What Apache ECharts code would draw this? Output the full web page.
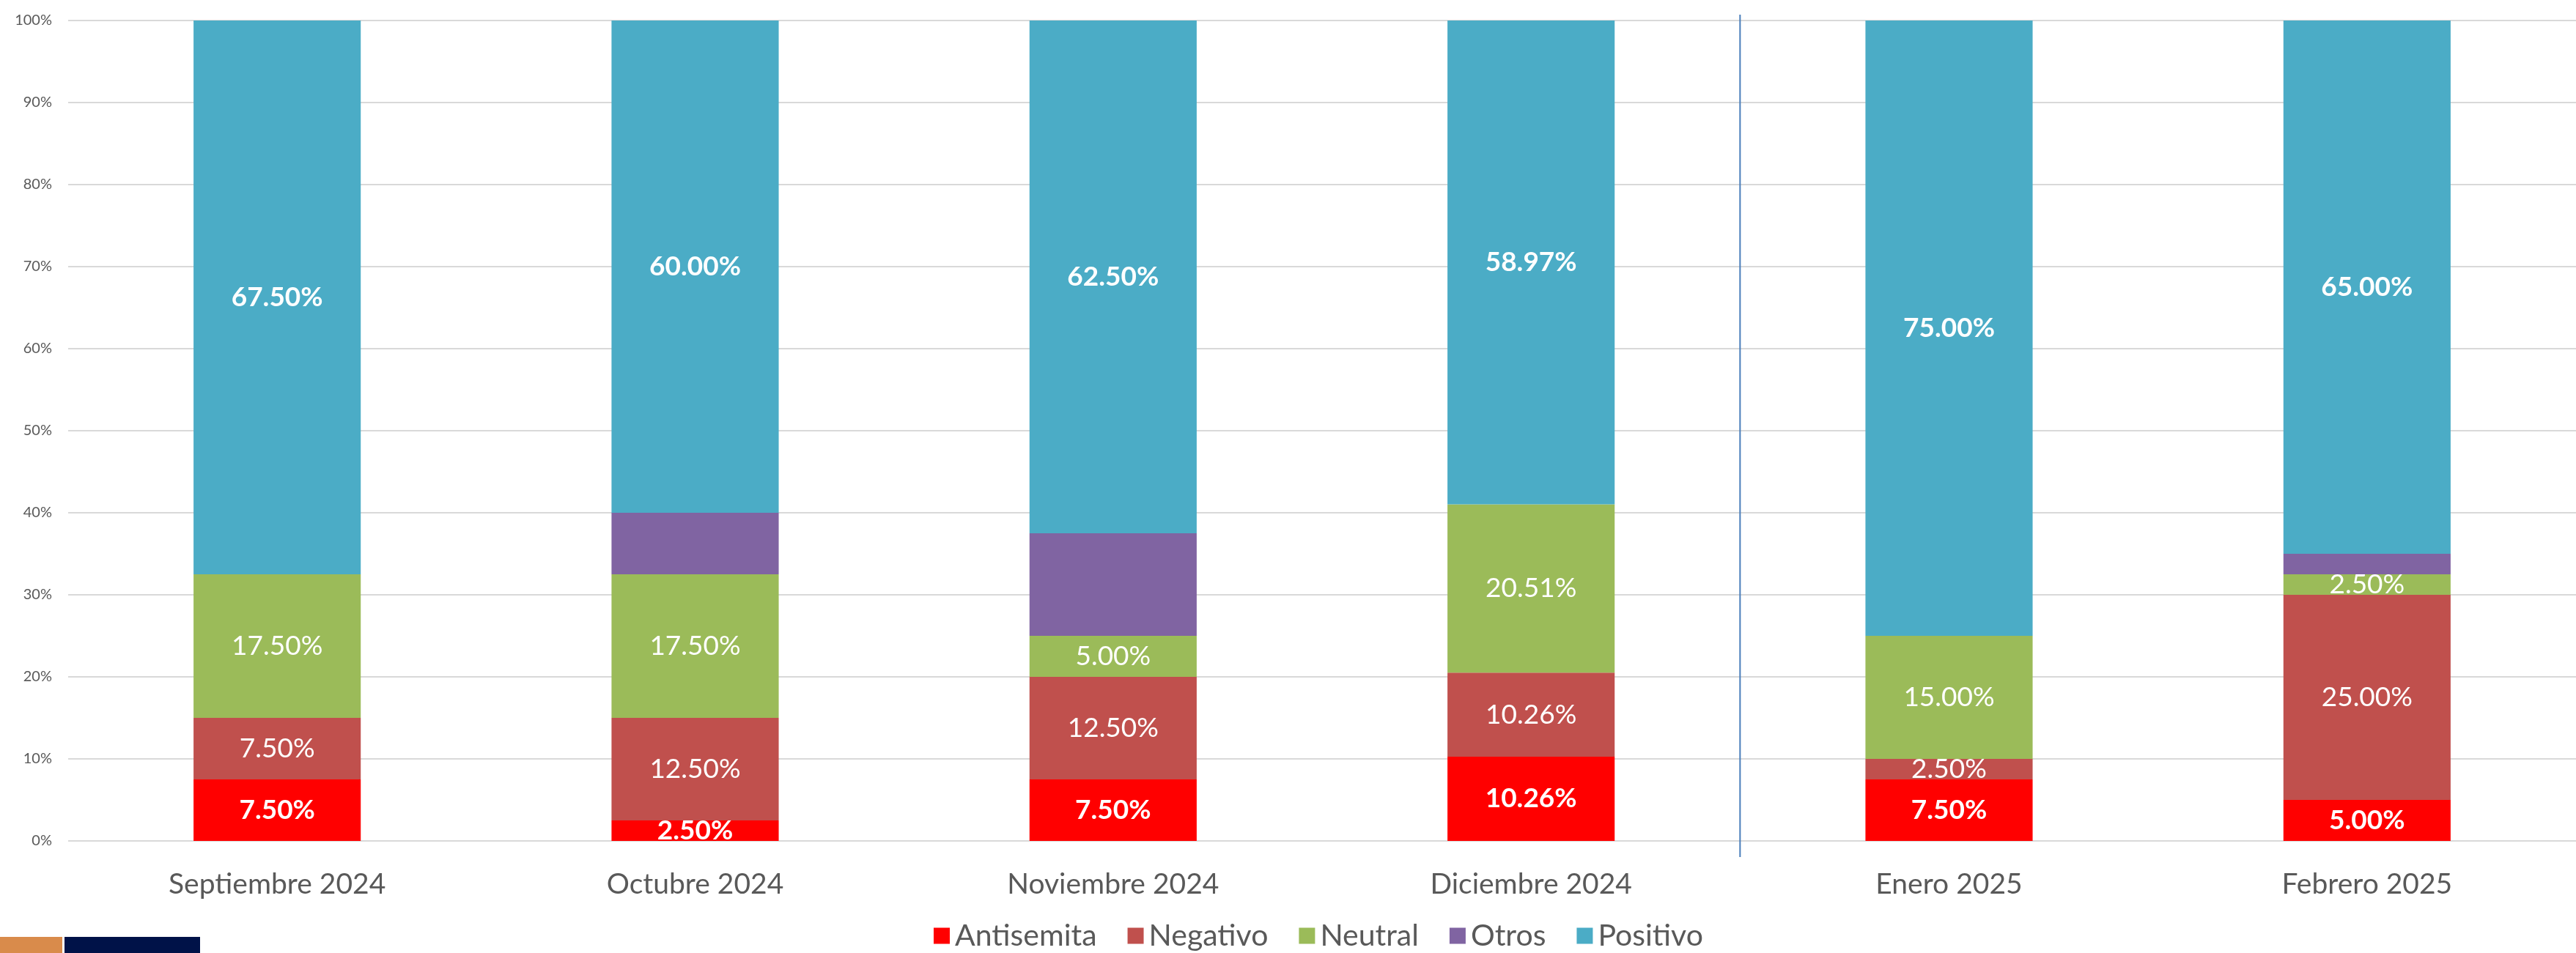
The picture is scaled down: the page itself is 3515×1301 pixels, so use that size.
<!DOCTYPE html>
<html>
<head>
<meta charset="utf-8">
<script src="https://cdn.jsdelivr.net/npm/echarts@6/dist/echarts.min.js"></script>
<style>
	html, body {margin: 0; padding: 0; background: #fff;}
	#chart {width: 3515px; height: 1301px;}
</style>
</head>
<body>
<div id="chart"></div>
<script>
var months = ["Septiembre 2024", "Octubre 2024", "Noviembre 2024", "Diciembre 2024", "Enero 2025", "Febrero 2025"];
var antisemita = [7.50, 2.50, 7.50, 10.26, 7.50, 5.00];
var negativo   = [7.50, 12.50, 12.50, 10.26, 2.50, 25.00];
var neutral    = [17.50, 17.50, 5.00, 20.51, 15.00, 2.50];
var otros      = [0, 7.50, 12.50, 0, 0, 2.50];
var positivo   = [67.50, 60.00, 62.50, 58.97, 75.00, 65.00];
var yTicks = [0, 10, 20, 30, 40, 50, 60, 70, 80, 90, 100];
// separator between 2024 and 2025 (between category 3 and 4)
var dividerAt = 3.5;

var FONT = "Lato";

function pct(p) { return p.value.toFixed(2) + "%"; }

function barSeries(name, values, color, labelOpt) {
	return {
		name: name,
		type: "bar",
		stack: "total",
		barWidth: "40%",
		data: values,
		itemStyle: {color: color},
		label: labelOpt
	};
}

var boldLabel = {show: true, position: "inside", color: "#fff", fontFamily: FONT, fontSize: 37, fontWeight: "bold", formatter: pct};
var plainLabel = {show: true, position: "inside", color: "#fff", fontFamily: FONT, fontSize: 37, fontWeight: "normal", formatter: pct};

var decor = [
	{type: "rect", left: 0, bottom: 0, shape: {width: 85, height: 22}, style: {fill: "#D98B4B"}},
	{type: "rect", left: 88, bottom: 0, shape: {width: 185, height: 22}, style: {fill: "#001248"}}
];

var chart = echarts.init(document.getElementById("chart"));
chart.setOption({
	animation: false,
	backgroundColor: "#fff",
	grid: {left: 93, right: -25, top: 28, bottom: 153, containLabel: false},
	legend: {
		data: ["Antisemita", "Negativo", "Neutral", "Otros", "Positivo"],
		left: 1269,
		top: 1252,
		icon: "rect",
		itemWidth: 22,
		itemHeight: 22,
		itemGap: 42,
		textStyle: {color: "#595959", fontFamily: FONT, fontSize: 41, padding: [0, 0, 0, 2]}
	},
	xAxis: [{
		type: "category",
		data: months,
		axisLine: {show: false},
		axisTick: {show: false},
		axisLabel: {color: "#595959", fontFamily: FONT, fontSize: 39, margin: 40}
	}, {
		type: "value",
		min: -0.5,
		max: 5.5,
		show: false
	}],
	yAxis: {
		type: "value",
		min: yTicks[0],
		max: yTicks[yTicks.length - 1],
		interval: 10,
		axisLine: {show: false},
		axisTick: {show: false},
		splitLine: {lineStyle: {color: "#D9D9D9", width: 2}},
		axisLabel: {color: "#595959", fontFamily: FONT, fontSize: 20, margin: 22, formatter: "{value}%"}
	},
	series: [
		barSeries("Antisemita", antisemita, "#FF0000", boldLabel),
		barSeries("Negativo", negativo, "#C0504D", plainLabel),
		barSeries("Neutral", neutral, "#9BBB59", plainLabel),
		barSeries("Otros", otros, "#8064A2", {show: false}),
		barSeries("Positivo", positivo, "#4BACC6", boldLabel),
		{name: "divider", type: "line", xAxisIndex: 1, data: [], silent: true}
	],
	graphic: decor
});

// place the year separator through the axis scale, a bit past the plot top and bottom
var divTop = chart.convertToPixel({xAxisIndex: 1, yAxisIndex: 0}, [dividerAt, yTicks[yTicks.length - 1]]);
var divBot = chart.convertToPixel({xAxisIndex: 1, yAxisIndex: 0}, [dividerAt, yTicks[0]]);
chart.setOption({
	graphic: decor.concat([
		{type: "line", shape: {x1: divTop[0], y1: divTop[1] - 8, x2: divBot[0], y2: divBot[1] + 22}, style: {stroke: "#4A7EBB", lineWidth: 2}, z: 10}
	])
});
</script>
</body>
</html>
